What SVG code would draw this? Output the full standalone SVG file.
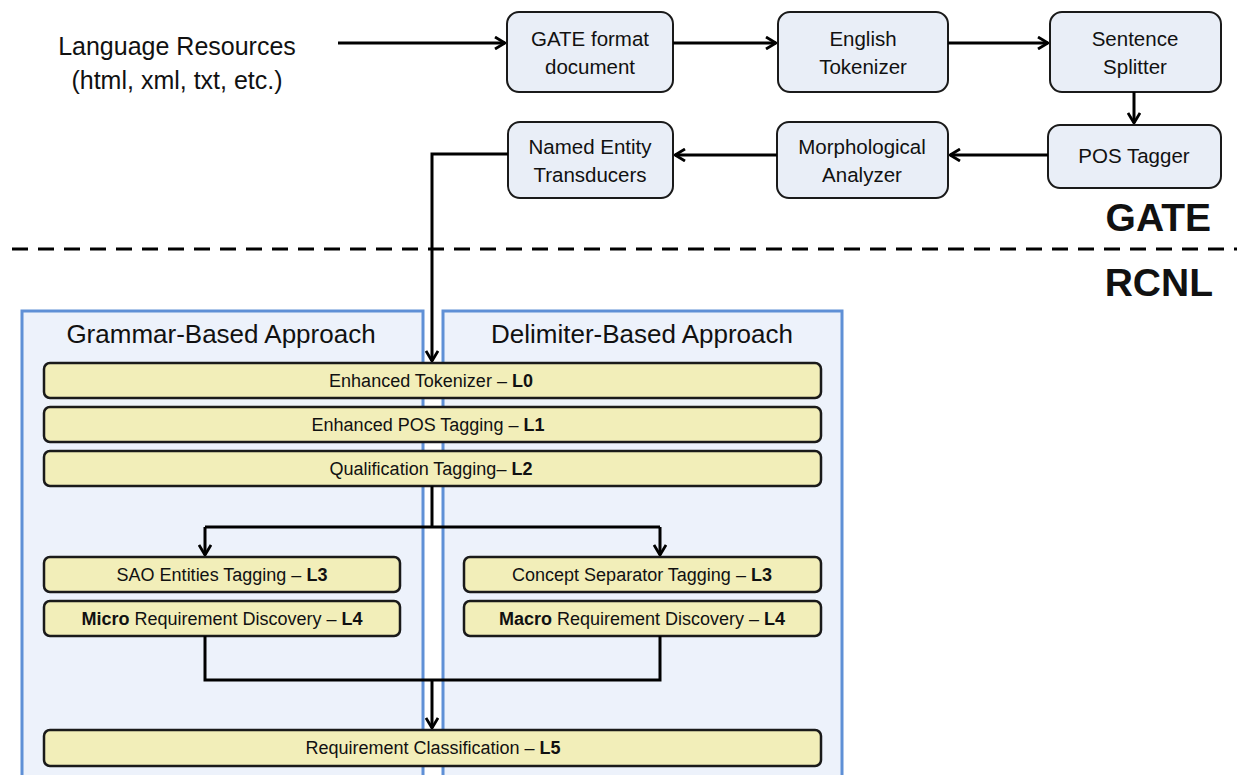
<svg xmlns="http://www.w3.org/2000/svg" width="1237" height="775" viewBox="0 0 1237 775">
<style>
.t{font-family:"Liberation Sans",Arial,sans-serif;fill:#111}
.box{fill:#E9EEF7;stroke:#1a1a1a;stroke-width:2}
.bar{fill:#F2EEB9;stroke:#1a1a1a;stroke-width:2.5}
.panel{fill:#EDF2FB;stroke:#5F90D6;stroke-width:3}
.c{fill:none;stroke:#000;stroke-width:3}
.bl{font-size:20.5px;text-anchor:middle}
.br{font-size:18px;text-anchor:middle}
.b{font-weight:bold}
</style>
<defs>
<marker id="ah" viewBox="0 0 12 14" refX="11" refY="7" markerWidth="12" markerHeight="14" markerUnits="userSpaceOnUse" orient="auto">
<path d="M1,1 L11,7 L1,13" fill="none" stroke="#000" stroke-width="2.8"/>
</marker>
</defs>
<rect width="1237" height="775" fill="#fff"/>

<g id="lang-resources">
<text class="t" x="177" y="55" font-size="25" text-anchor="middle">Language Resources</text>
<text class="t" x="177" y="89" font-size="25" text-anchor="middle">(html, xml, txt, etc.)</text>
</g>

<g id="gate-format">
<rect class="box" x="507" y="12" width="166" height="80" rx="12"/>
<text class="t bl" x="590" y="46">GATE format</text>
<text class="t bl" x="590" y="74">document</text>
</g>
<g id="english-tokenizer">
<rect class="box" x="778" y="12" width="170" height="80" rx="12"/>
<text class="t bl" x="863" y="46">English</text>
<text class="t bl" x="863" y="74">Tokenizer</text>
</g>
<g id="sentence-splitter">
<rect class="box" x="1050" y="12" width="171" height="80" rx="12"/>
<text class="t bl" x="1135" y="46">Sentence</text>
<text class="t bl" x="1135" y="74">Splitter</text>
</g>
<g id="pos-tagger">
<rect class="box" x="1048" y="125" width="173" height="63" rx="12"/>
<text class="t bl" x="1134" y="163">POS Tagger</text>
</g>
<g id="morph-analyzer">
<rect class="box" x="777" y="122" width="171" height="76" rx="12"/>
<text class="t bl" x="862" y="154">Morphological</text>
<text class="t bl" x="862" y="182">Analyzer</text>
</g>
<g id="ne-transducers">
<rect class="box" x="508" y="122" width="165" height="76" rx="12"/>
<text class="t bl" x="590" y="154">Named Entity</text>
<text class="t bl" x="590" y="182">Transducers</text>
</g>

<g id="separator">
<line x1="12" y1="249" x2="1237" y2="249" stroke="#000" stroke-width="3" stroke-dasharray="16 10"/>
<text class="t b" x="1211" y="231" font-size="39" text-anchor="end">GATE</text>
<text class="t b" x="1213" y="296" font-size="39" text-anchor="end">RCNL</text>
</g>

<g id="grammar-panel">
<rect class="panel" x="22" y="311" width="401" height="480"/>
<text class="t" x="221" y="343" font-size="26" text-anchor="middle">Grammar-Based Approach</text>
</g>
<g id="delimiter-panel">
<rect class="panel" x="443" y="311" width="399" height="480"/>
<text class="t" x="642" y="343" font-size="26" text-anchor="middle">Delimiter-Based Approach</text>
</g>

<g id="l0">
<rect class="bar" x="44" y="363" width="777" height="35" rx="6"/>
<text class="t br" x="431" y="387">Enhanced Tokenizer – <tspan class="b">L0</tspan></text>
</g>
<g id="l1">
<rect class="bar" x="44" y="407" width="777" height="35" rx="6"/>
<text class="t br" x="428" y="431">Enhanced POS Tagging – <tspan class="b">L1</tspan></text>
</g>
<g id="l2">
<rect class="bar" x="44" y="451" width="777" height="35" rx="6"/>
<text class="t br" x="431" y="475">Qualification Tagging– <tspan class="b">L2</tspan></text>
</g>
<g id="sao">
<rect class="bar" x="44" y="557" width="356" height="35" rx="6"/>
<text class="t br" x="222" y="581">SAO Entities Tagging – <tspan class="b">L3</tspan></text>
</g>
<g id="micro">
<rect class="bar" x="44" y="601" width="356" height="35" rx="6"/>
<text class="t br" x="222" y="625"><tspan class="b">Micro</tspan> Requirement Discovery – <tspan class="b">L4</tspan></text>
</g>
<g id="concept">
<rect class="bar" x="464" y="557" width="357" height="35" rx="6"/>
<text class="t br" x="642" y="581">Concept Separator Tagging – <tspan class="b">L3</tspan></text>
</g>
<g id="macro">
<rect class="bar" x="464" y="601" width="357" height="35" rx="6"/>
<text class="t br" x="642" y="625"><tspan class="b">Macro</tspan> Requirement Discovery – <tspan class="b">L4</tspan></text>
</g>
<g id="l5">
<rect class="bar" x="44" y="730" width="777" height="36" rx="6"/>
<text class="t br" x="433" y="754">Requirement Classification – <tspan class="b">L5</tspan></text>
</g>

<g id="connectors">
<path class="c" d="M338,43 H505" marker-end="url(#ah)"/>
<path class="c" d="M673,43 H776" marker-end="url(#ah)"/>
<path class="c" d="M948,43 H1048" marker-end="url(#ah)"/>
<path class="c" d="M1134,92 V123" marker-end="url(#ah)"/>
<path class="c" d="M1048,155 H950" marker-end="url(#ah)"/>
<path class="c" d="M777,155 H675" marker-end="url(#ah)"/>
<path class="c" d="M508,154 H432 V361" marker-end="url(#ah)"/>
<path class="c" d="M432,486 V527"/>
<path class="c" d="M205,527 H660"/>
<path class="c" d="M205,527 V555" marker-end="url(#ah)"/>
<path class="c" d="M660,527 V555" marker-end="url(#ah)"/>
<path class="c" d="M205,636 V680 H660 V636"/>
<path class="c" d="M432,680 V728" marker-end="url(#ah)"/>
</g>
</svg>
